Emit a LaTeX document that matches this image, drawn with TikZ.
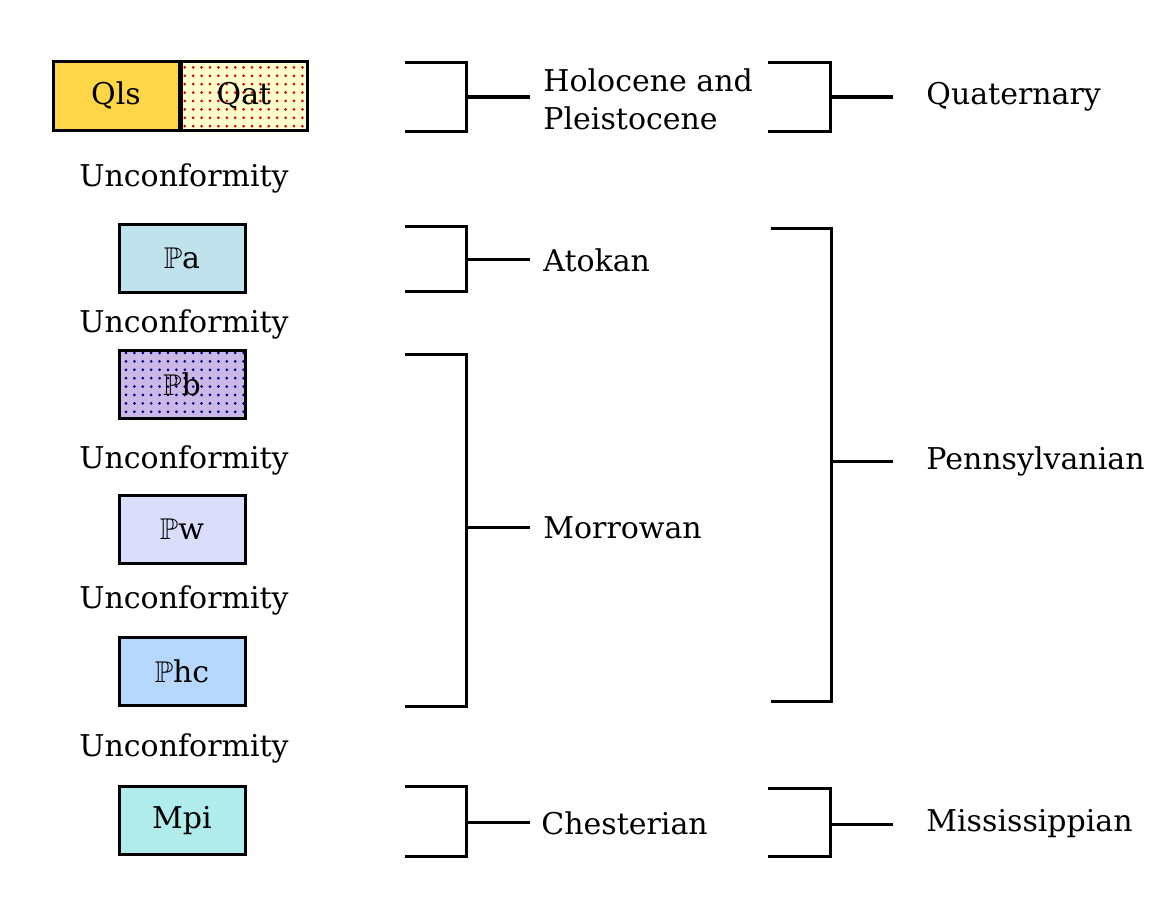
\documentclass[tikz,border=0pt]{standalone}
\usepackage{amssymb}
\usepackage{fontspec}
\setmainfont{DejaVu Serif}
\usetikzlibrary{patterns.meta}
\definecolor{qlsgold}{RGB}{255,214,72}
\definecolor{qatcream}{RGB}{255,255,204}
\definecolor{pablue}{RGB}{192,226,236}
\definecolor{pbpurple}{RGB}{204,184,230}
\definecolor{pwlav}{RGB}{218,222,252}
\definecolor{phcblue}{RGB}{182,216,252}
\definecolor{mpiteal}{RGB}{176,236,236}
\newcommand{\PP}{$\mathbb{P}$}

\begin{document}
\begin{tikzpicture}[x=0.5pt,y=-0.5pt,
    unit/.style={draw=black, line width=1.5pt, minimum width=63pt, minimum height=34pt, inner sep=0pt, font=\fontsize{15}{17}\selectfont},
    dotted fill/.style={postaction={pattern={Dots[distance=4.2pt,radius=0.75pt]}, pattern color=#1}},
    brk/.style={line width=1.5pt},
    txt/.style={inner sep=0pt, font=\fontsize{15}{19}\selectfont},
    lbl/.style={txt, anchor=west}]
	\useasboundingbox (0,0) rectangle (1170,899);
	% map units
	\node[unit, fill=qlsgold] (qls) at (116,96) {Qls};
	\node[unit, fill=qatcream, dotted fill=red!85!black] (qat) at (244,96) {Qat};
	\node[unit, fill=pablue] (pa) at (182,258) {\PP a};
	\node[unit, fill=pbpurple, dotted fill=black!50!blue] (pb) at (182,384) {\PP b};
	\node[unit, fill=pwlav] (pw) at (182,529.5) {\PP w};
	\node[unit, fill=phcblue] (phc) at (182,671.5) {\PP hc};
	\node[unit, fill=mpiteal] (mpi) at (182,820.5) {Mpi};
	% unconformities
	\node[txt] (u1) at (184,178) {Unconformity};
	\node[txt] (u2) at (184,324) {Unconformity};
	\node[txt] (u3) at (184,460) {Unconformity};
	\node[txt] (u4) at (184,600) {Unconformity};
	\node[txt] (u5) at (184,748) {Unconformity};
	% epochs
	\draw[brk] (405,63) -- (466,63) -- (466,131) -- (405,131);
	\draw[brk] (466,97) -- (530,97);
	\node[lbl, align=left] (holo) at (543,99) {Holocene and\\Pleistocene};
	\draw[brk] (405,226) -- (466,226) -- (466,291) -- (405,291);
	\draw[brk] (466,259) -- (530,259);
	\node[lbl] (atok) at (543,260) {Atokan};
	\draw[brk] (405,354) -- (466,354) -- (466,706) -- (405,706);
	\draw[brk] (466,527) -- (530,527);
	\node[lbl] (morr) at (543,528) {Morrowan};
	\draw[brk] (405,786) -- (466,786) -- (466,856) -- (405,856);
	\draw[brk] (466,822) -- (530,822);
	\node[lbl] (ches) at (541,823) {Chesterian};
	% periods
	\draw[brk] (768,63) -- (830,63) -- (830,131) -- (768,131);
	\draw[brk] (830,97) -- (893,97);
	\node[lbl] (quat) at (926,97) {Quaternary};
	\draw[brk] (771,228) -- (831,228) -- (831,701) -- (771,701);
	\draw[brk] (831,461) -- (893,461);
	\node[lbl] (penn) at (926,461) {Pennsylvanian};
	\draw[brk] (768,788) -- (830,788) -- (830,856) -- (768,856);
	\draw[brk] (830,824) -- (893,824);
	\node[lbl] (miss) at (926,824) {Mississippian};
\end{tikzpicture}
\end{document}
